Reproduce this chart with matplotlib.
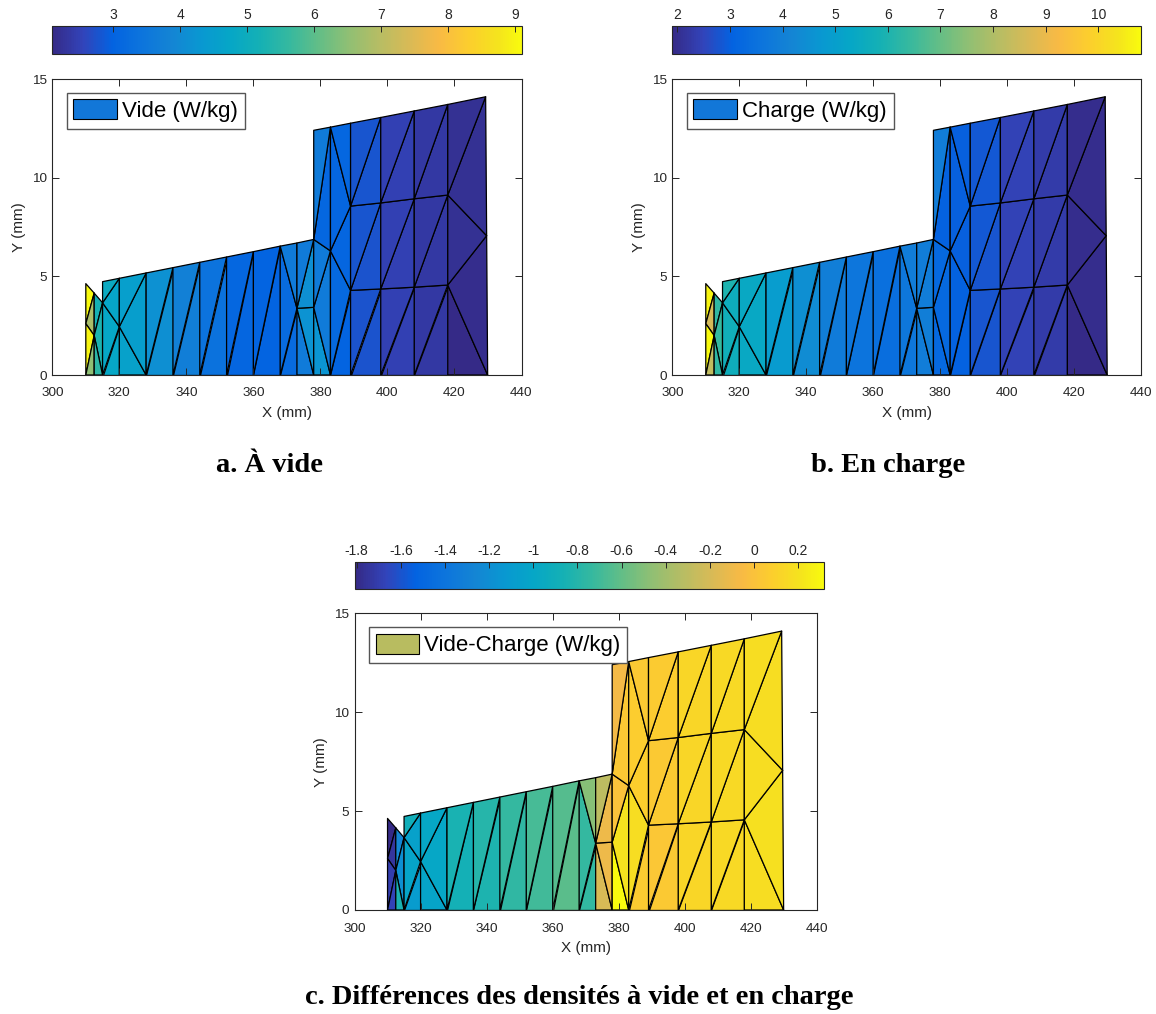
import numpy as np
import matplotlib
matplotlib.use("Agg")
import matplotlib.pyplot as plt
from matplotlib.colors import LinearSegmentedColormap
from matplotlib.patches import Patch

# ---------------- data ----------------
node_x = [310, 310, 310, 312.5, 312.5, 312.5, 315, 315, 315, 320, 320, 320,
          328, 328, 336, 336, 344, 344, 352, 352, 360, 360, 368, 368,
          373, 373, 373, 378, 378, 378, 378, 383, 383, 383,
          389, 389, 389, 389, 398, 398, 398, 398, 408, 408, 408, 408,
          418, 418, 418, 418, 429.9, 429.6, 429.3]
node_y = [0, 2.6, 4.63, 0, 2.0, 4.15, 0, 3.66, 4.73, 0, 2.45, 4.90,
          0, 5.17, 0, 5.44, 0, 5.71, 0, 5.98, 0, 6.25, 0, 6.53,
          0, 3.38, 6.69, 0, 3.43, 6.87, 12.40, 0, 6.29, 12.56,
          0, 4.29, 8.56, 12.76, 0, 4.36, 8.72, 13.05, 0, 4.45, 8.93, 13.38,
          0, 4.56, 9.12, 13.71, 0, 7.06, 14.10]
triangles = [[2, 5, 1], [1, 5, 4], [1, 4, 0], [0, 4, 3], [5, 7, 4], [4, 7, 6], [3, 4, 6],
             [6, 9, 10], [6, 10, 7], [7, 10, 11], [7, 11, 8],
             [9, 12, 10], [10, 12, 13], [10, 13, 11],
             [12, 14, 15], [12, 15, 13], [14, 16, 17], [14, 17, 15],
             [16, 18, 19], [16, 19, 17], [18, 20, 21], [18, 21, 19],
             [20, 22, 23], [20, 23, 21],
             [22, 24, 25], [22, 25, 23], [23, 25, 26],
             [24, 27, 25], [25, 27, 28], [25, 28, 29], [25, 29, 26],
             [27, 31, 28], [28, 31, 32], [28, 32, 29], [29, 32, 33], [29, 33, 30],
             [31, 34, 35], [31, 35, 32], [32, 35, 36], [32, 36, 33], [33, 36, 37],
             [34, 38, 39], [34, 39, 35], [35, 39, 40], [35, 40, 36], [36, 40, 41], [36, 41, 37],
             [38, 42, 43], [38, 43, 39], [39, 43, 44], [39, 44, 40], [40, 44, 45], [40, 45, 41],
             [42, 46, 47], [42, 47, 43], [43, 47, 48], [43, 48, 44], [44, 48, 49], [44, 49, 45],
             [46, 50, 47], [47, 50, 51], [47, 51, 48], [48, 51, 52], [48, 52, 49]]

vide = [9.09, 6.8, 9.0, 6.5, 5.2, 5.3, 5.5,
        4.75, 4.75, 4.7, 4.9,
        4.6, 4.5, 4.55,
        4.1, 4.15, 3.7, 3.75,
        3.35, 3.4, 3.05, 3.1,
        3.0, 3.0,
        3.2, 3.2, 3.6,
        3.6, 4.2, 4.1, 3.6,
        4.25, 3.6, 3.6, 3.1, 3.6,
        3.0, 3.15, 3.05, 3.05, 3.1,
        2.75, 2.75, 2.75, 2.8, 2.8, 2.8,
        2.5, 2.5, 2.5, 2.5, 2.5, 2.5,
        2.35, 2.35, 2.35, 2.35, 2.35, 2.35,
        2.09, 2.15, 2.2, 2.2, 2.2]
charge = [10.7, 8.6, 10.81, 8.3, 6.3, 6.4, 6.3,
          5.65, 5.7, 5.6, 6.0,
          5.4, 5.35, 5.4,
          4.85, 4.9, 4.4, 4.45,
          3.85, 3.95, 3.6, 3.65,
          3.4, 3.45,
          3.7, 3.7, 3.9,
          3.9, 3.95, 3.9, 3.9,
          3.25, 3.25, 3.25, 3.05, 3.9,
          3.05, 3.05, 3.0, 3.0, 3.0,
          2.8, 2.8, 2.8, 2.85, 2.85, 2.85,
          2.45, 2.45, 2.45, 2.45, 2.45, 2.45,
          2.3, 2.3, 2.3, 2.3, 2.3, 2.3,
          1.906, 2.0, 2.0, 2.0, 2.0]
difference = [-1.806, -1.74, -1.70, -1.68, -1.25, -1.2, -0.85,
              -1.1, -1.02, -1.05, -0.9,
              -1.02, -1.0, -1.0,
              -0.87, -0.85, -0.83, -0.8,
              -0.76, -0.74, -0.7, -0.68,
              -0.62, -0.64,
              -0.75, -0.74, -0.49,
              -0.19, -0.1, -0.1, -0.3,
              0.318, 0.2, 0.0, 0.04, -0.08,
              0.06, 0.17, 0.08, 0.07, 0.05,
              0.05, 0.03, 0.06, 0.05, 0.07, 0.06,
              0.13, 0.13, 0.13, 0.13, 0.13, 0.13,
              0.15, 0.15, 0.15, 0.15, 0.15, 0.15,
              0.17, 0.19, 0.17, 0.17, 0.17]

ticks_a = [3, 4, 5, 6, 7, 8, 9]
ticks_b = [2, 3, 4, 5, 6, 7, 8, 9, 10]
ticks_c = [-1.8, -1.6, -1.4, -1.2, -1.0, -0.8, -0.6, -0.4, -0.2, 0.0, 0.2]
ticklabels_c = ['-1.8', '-1.6', '-1.4', '-1.2', '-1', '-0.8', '-0.6', '-0.4', '-0.2', '0', '0.2']
legend_labels = ['Vide (W/kg)', 'Charge (W/kg)', 'Vide-Charge (W/kg)']
captions = ['a. À vide', 'b. En charge', 'c. Différences des densités à vide et en charge']

# ---------------- style ----------------
parula_anchors = [
    [0.2081, 0.1663, 0.5292], [0.1959, 0.2645, 0.7279], [0.0117, 0.3875, 0.8820],
    [0.0498, 0.4586, 0.8641], [0.0793, 0.5200, 0.8312], [0.0343, 0.5966, 0.8199],
    [0.0228, 0.6535, 0.7768], [0.0843, 0.6928, 0.7062], [0.2178, 0.7250, 0.6193],
    [0.3953, 0.7459, 0.5244], [0.5709, 0.7485, 0.4494], [0.7184, 0.7411, 0.3905],
    [0.8507, 0.7299, 0.3360], [0.9739, 0.7314, 0.2666], [0.9880, 0.8066, 0.1794],
    [0.9589, 0.8949, 0.1132], [0.9763, 0.9831, 0.0538]]
pos = [i / 63 for i in range(0, 64, 4)] + [1.0]
parula = LinearSegmentedColormap.from_list('parula', list(zip(pos, parula_anchors)), N=256)

plt.rcParams['font.family'] = ['Liberation Sans', 'DejaVu Sans']
W, H = 1156, 1014
fig = plt.figure(figsize=(W / 100, H / 100), dpi=100)


def rect(l, t, r, b):
    return [l / W, 1 - b / H, (r - l) / W, (b - t) / H]


AX_COL = '#262626'


def panel(ax_r, cax_r, vals, ticks, ticklabels, leg_label, leg_color):
    ax = fig.add_axes(rect(*ax_r))
    cax = fig.add_axes(rect(*cax_r))
    coll = ax.tripcolor(node_x, node_y, triangles, facecolors=np.array(vals), cmap=parula,
                        vmin=min(vals), vmax=max(vals), edgecolors='black', linewidth=0.9)
    ax.set_xlim(300, 440)
    ax.set_ylim(0, 15)
    ax.set_xticks(range(300, 441, 20))
    ax.set_yticks([0, 5, 10, 15])
    ax.tick_params(direction='in', top=True, right=True, length=5, width=0.7,
                   labelsize=9.7, colors=AX_COL)
    ax.tick_params(axis='x', pad=9)
    ax.tick_params(axis='y', pad=4)
    for s in ax.spines.values():
        s.set_color(AX_COL)
        s.set_linewidth(0.8)
    ax.set_xlabel('X (mm)', fontsize=11, color=AX_COL, labelpad=4.5)
    ax.set_ylabel('Y (mm)', fontsize=11, color=AX_COL, labelpad=4)
    axw = ax_r[2] - ax_r[0]
    axh = ax_r[3] - ax_r[1]
    ax.legend(handles=[Patch(facecolor=leg_color, edgecolor='black', linewidth=0.8)],
              labels=[leg_label], loc='upper left',
              bbox_to_anchor=(14.4 / axw, 1 - 13.7 / axh), borderaxespad=0,
              fontsize=16, fancybox=False, framealpha=1, edgecolor='#555555',
              handlelength=1.95, handleheight=1.0, handletextpad=0.25, borderpad=0.3)
    cb = fig.colorbar(coll, cax=cax, orientation='horizontal')
    cb.set_ticks(ticks)
    if ticklabels is not None:
        cb.set_ticklabels(ticklabels)
    cax.xaxis.set_ticks_position('top')
    cax.tick_params(direction='in', length=4, width=0.7, labelsize=10, colors=AX_COL, pad=3)
    cb.outline.set_edgecolor(AX_COL)
    cb.outline.set_linewidth(0.8)
    return ax


panel((52.3, 79, 521.5, 375), (52.3, 26, 521.5, 54.3), vide, ticks_a, None,
      legend_labels[0], '#1277d8')
panel((672.3, 79, 1141, 375), (672.3, 26, 1141, 54.3), charge, ticks_b, None,
      legend_labels[1], '#1277d8')
panel((354.5, 613.3, 817, 910), (355.3, 561.7, 824.3, 589.3), difference, ticks_c,
      ticklabels_c, legend_labels[2], '#b8bc60')

cap_kw = dict(ha='center', va='center', fontsize=20.5, fontweight='bold',
              family=['Liberation Serif', 'DejaVu Serif'], color='black')
fig.text(269 / W, 1 - 465 / H, captions[0], **cap_kw)
fig.text(888 / W, 1 - 465 / H, captions[1], **cap_kw)
fig.text(579 / W, 1 - 997 / H, captions[2], **cap_kw)

fig.savefig('out.png', dpi=100)
